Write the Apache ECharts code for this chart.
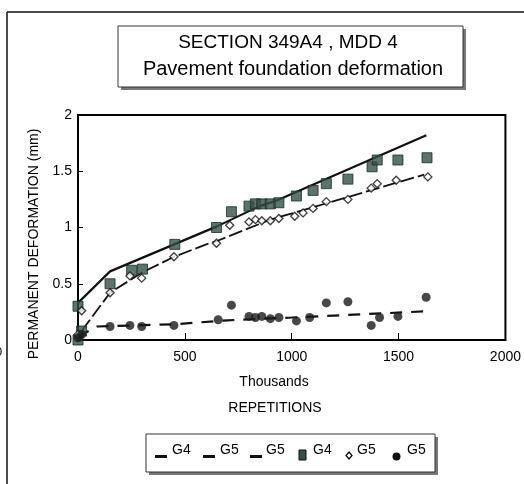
<!DOCTYPE html>
<html><head><meta charset="utf-8">
<script src="https://cdn.jsdelivr.net/npm/echarts@6/dist/echarts.min.js"></script>
<style>html,body{margin:0;padding:0;background:#fff}#c{width:524px;height:484px}</style>
</head><body><div id="c"></div>
<script>
// Measured points (x in thousands of repetitions, y in mm)
const g4Squares = [[0,0],[0,0.3],[17,0.08],[150,0.5],[251,0.62],[302,0.63],[453,0.85],[648,1.0],[718,1.14],[800,1.19],[830,1.21],[860,1.21],[900,1.21],[940,1.22],[1022,1.28],[1100,1.33],[1162,1.39],[1263,1.43],[1376,1.54],[1400,1.6],[1497,1.6],[1633,1.62]];
const g5Diamonds = [[0,0.05],[17,0.26],[150,0.42],[243,0.57],[298,0.55],[449,0.74],[648,0.86],[710,1.02],[800,1.05],[830,1.07],[860,1.06],[900,1.06],[940,1.08],[1014,1.1],[1053,1.13],[1100,1.17],[1162,1.23],[1263,1.25],[1372,1.35],[1400,1.39],[1489,1.42],[1637,1.45]];
const g5Circles = [[0,0.02],[17,0.05],[150,0.12],[243,0.13],[298,0.12],[449,0.13],[656,0.18],[718,0.31],[800,0.21],[830,0.2],[860,0.21],[900,0.19],[940,0.2],[1022,0.17],[1084,0.2],[1162,0.33],[1263,0.34],[1372,0.13],[1411,0.2],[1497,0.21],[1629,0.38]];
// Fitted lines
const g4Fit = [[0,0.33],[150,0.61],[300,0.73],[450,0.85],[650,1.01],[850,1.19],[930,1.24],[1630,1.82]];
const g5Fit = [[17,0.08],[150,0.42],[300,0.6],[450,0.74],[600,0.85],[650,0.88],[900,1.07],[1100,1.18],[1620,1.47]];
const g5LowFit = [[0,0.03],[90,0.12],[450,0.14],[700,0.175],[1000,0.2],[1630,0.255]];
const xTicks = [0,500,1000,1500,2000];
const yTicks = [0,0.5,1,1.5,2];

const FONT = 'Liberation Sans';
const chart = echarts.init(document.getElementById('c'), null, {renderer:'canvas'});

function legendItem(kind, x) {
  const els = [];
  if (kind === 'line') els.push({type:'rect', shape:{x:x, y:455, width:12, height:3}, style:{fill:'#111'}});
  if (kind === 'square') els.push({type:'rect', shape:{x:x, y:450, width:7, height:10}, style:{fill:'#2f5446', stroke:'#111', lineWidth:1}});
  if (kind === 'diamond') els.push({type:'polygon', shape:{points:[[x+3,452],[x+6,455.5],[x+3,459],[x,455.5]]}, style:{fill:'#fff', stroke:'#111', lineWidth:1.3}});
  if (kind === 'circle') els.push({type:'circle', shape:{cx:x+3.5, cy:456.5, r:4}, style:{fill:'#111'}});
  return els;
}

const legendDefs = [
  ['line',155,172,'G4'],['line',203,220,'G5'],['line',250,266,'G5'],
  ['square',299,313,'G4'],['diamond',346,357,'G5'],['circle',393,407,'G5']
];
const legendEls = [];
legendDefs.forEach(d => {
  legendItem(d[0], d[1]).forEach(e => legendEls.push(e));
  legendEls.push({type:'text', x:d[2], y:450, style:{text:d[3], font:'14px "'+FONT+'"', fill:'#000', verticalAlign:'middle'}});
});

chart.setOption({
  animation:false,
  backgroundColor:'#fff',
  grid:{left:78, right:18, top:115, bottom:144, show:true, borderColor:'#000', borderWidth:2, backgroundColor:'transparent'},
  xAxis:{type:'value', min:0, max:2000, interval:500,
    axisLine:{show:true, lineStyle:{color:'#000', width:2}},
    axisTick:{show:true, inside:true, length:7, lineStyle:{color:'#000'}},
    axisLabel:{color:'#000', fontFamily:FONT, fontSize:14, margin:10,
      formatter: v => xTicks.includes(v) ? String(v) : ''},
    splitLine:{show:false}},
  yAxis:{type:'value', min:0, max:2, interval:0.5,
    axisLine:{show:true, lineStyle:{color:'#000', width:2}},
    axisTick:{show:true, inside:true, length:5, lineStyle:{color:'#000'}},
    axisLabel:{color:'#000', fontFamily:FONT, fontSize:14, margin:6,
      formatter: v => yTicks.includes(v) ? String(v) : ''},
    splitLine:{show:false}},
  graphic:[
    {type:'line', shape:{x1:7, y1:12, x2:524, y2:12}, style:{stroke:'#111', lineWidth:1.5}},
    {type:'line', shape:{x1:7, y1:12, x2:7, y2:484}, style:{stroke:'#111', lineWidth:1.5}},
    {type:'text', x:-5, y:352, style:{text:'0', font:'13px "'+FONT+'"', fill:'#111', verticalAlign:'middle'}},
    // title box with shadow
    {type:'rect', shape:{x:121, y:29, width:345, height:61}, style:{fill:'#777'}},
    {type:'rect', shape:{x:118, y:26, width:345, height:61}, style:{fill:'#fff', stroke:'#333', lineWidth:1}},
    {type:'text', x:288, y:43, style:{text:'SECTION 349A4 , MDD 4', font:'19px "'+FONT+'"', fill:'#000', align:'center', verticalAlign:'middle'}},
    {type:'text', x:293, y:69, style:{text:'Pavement foundation deformation', font:'20px "'+FONT+'"', fill:'#000', align:'center', verticalAlign:'middle'}},
    // axis names
    {type:'text', x:34, y:244, rotation:Math.PI/2, style:{text:'PERMANENT DEFORMATION (mm)', font:'14px "'+FONT+'"', fill:'#000', align:'center', verticalAlign:'middle'}},
    {type:'text', x:274, y:382, style:{text:'Thousands', font:'14px "'+FONT+'"', fill:'#000', align:'center', verticalAlign:'middle'}},
    {type:'text', x:275, y:408, style:{text:'REPETITIONS', font:'14px "'+FONT+'"', fill:'#000', align:'center', verticalAlign:'middle'}},
    // legend box with shadow
    {type:'rect', shape:{x:149, y:437, width:289, height:38}, style:{fill:'#777'}},
    {type:'rect', shape:{x:146, y:434, width:289, height:38}, style:{fill:'#fff', stroke:'#333', lineWidth:1}}
  ].concat(legendEls),
  series:[
    {name:'G4', type:'line', data:g4Fit, showSymbol:false, lineStyle:{color:'#111', width:2.2}, z:3},
    {name:'G5', type:'line', data:g5Fit, showSymbol:false, lineStyle:{color:'#111', width:1.8, type:[14,4]}, z:3},
    {name:'G5 ', type:'line', data:g5LowFit, showSymbol:false, lineStyle:{color:'#111', width:2.2, type:[12,9]}, z:3},
    {name:'G4 pts', type:'scatter', data:g4Squares, symbol:'rect', symbolSize:10, itemStyle:{color:'#2f5446', borderColor:'#1a2a24', borderWidth:1}, z:4},
    {name:'G5 pts', type:'scatter', data:g5Diamonds, symbol:'diamond', symbolSize:8, itemStyle:{color:'#fff', borderColor:'#111', borderWidth:1.4}, z:5},
    {name:'G5 pts2', type:'scatter', data:g5Circles, symbol:'circle', symbolSize:9, itemStyle:{color:'#1a1a1a'}, z:5}
  ]
});
</script></body></html>
